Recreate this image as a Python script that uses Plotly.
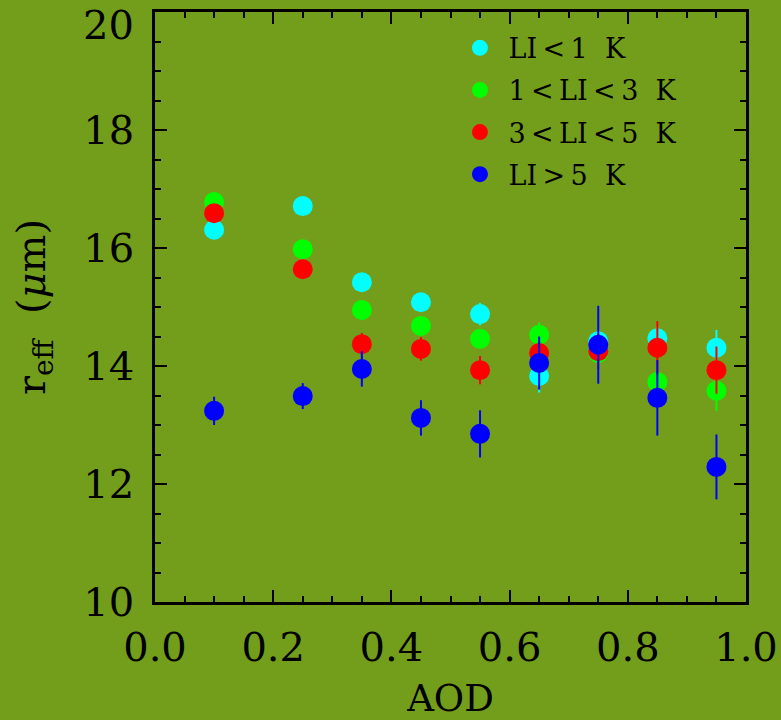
import plotly.graph_objects as go

aod = [0.1, 0.25, 0.35, 0.45, 0.55, 0.65, 0.75, 0.85, 0.95]

series_names = ["LI\u2009&lt;\u20091\u00a0\u00a0K", "1\u2009&lt;\u2009LI\u2009&lt;\u20093\u00a0\u00a0K",
                "3\u2009&lt;\u2009LI\u2009&lt;\u20095\u00a0\u00a0K", "LI\u2009&gt;\u20095\u00a0\u00a0K"]
series_colors = ["#00FFFF", "#00FF00", "#FF0000", "#0000FF"]

reff_li_lt1 = [16.31, 16.71, 15.42, 15.08, 14.88, 13.83, 14.42, 14.47, 14.31]
reff_li_1_3 = [16.78, 15.98, 14.95, 14.68, 14.46, 14.53, 14.22, 13.73, 13.58]
reff_li_3_5 = [16.59, 15.64, 14.37, 14.29, 13.93, 14.22, 14.25, 14.31, 13.93]
reff_li_gt5 = [13.24, 13.49, 13.95, 13.12, 12.85, 14.05, 14.36, 13.46, 12.29]

err_li_lt1 = [0.10, 0.10, 0.12, 0.12, 0.19, 0.28, 0.20, 0.20, 0.30]
err_li_1_3 = [0.10, 0.10, 0.12, 0.12, 0.15, 0.21, 0.25, 0.30, 0.34]
err_li_3_5 = [0.10, 0.10, 0.19, 0.20, 0.24, 0.20, 0.30, 0.45, 0.40]
err_li_gt5 = [0.24, 0.22, 0.30, 0.30, 0.40, 0.45, 0.66, 0.64, 0.55]

y_ticks_low = [10, 12, 14, 16, 18]
y_tick_top = [20]

values = [reff_li_lt1, reff_li_1_3, reff_li_3_5, reff_li_gt5]
errors = [err_li_lt1, err_li_1_3, err_li_3_5, err_li_gt5]

BG = "#739e1b"
FONT = "DejaVu Serif"
YRANGE = [10, 20]

fig = go.Figure()
for i, (nm, col, ys, es) in enumerate(zip(series_names, series_colors, values, errors)):
    fig.add_trace(go.Scatter(
        x=aod, y=ys, mode="markers", name="\u00a0" + nm,
        legendgroup=f"g{i}",
        marker=dict(color=col, size=20, line=dict(width=0)),
        error_y=dict(type="data", array=es, visible=True, color=col,
                     thickness=2, width=0),
    ))

# empty helper trace so the overlay axis carrying the top "20" label is drawn
fig.add_trace(go.Scatter(x=[None], y=[None], yaxis="y2", mode="markers",
                         showlegend=False, hoverinfo="skip"))

axis_common = dict(
    showline=True, linecolor="black", linewidth=2.5, mirror="ticks",
    ticks="inside", tickcolor="black", tickwidth=2, ticklen=12,
    showgrid=False, zeroline=False, ticklabeloverflow="allow",
    automargin=False,
    tickfont=dict(family=FONT, size=40, color="black"),
)

fig.update_xaxes(
    range=[0, 1], dtick=0.2, tick0=0, tickformat=".1f",
    minor=dict(dtick=0.05, ticks="inside", ticklen=6, tickwidth=2, tickcolor="black", showgrid=False),
    title=dict(text="AOD", font=dict(family=FONT, size=37, color="black"), standoff=33),
    ticklabelstandoff=8,
    **axis_common,
)

fig.update_layout(
    width=781, height=720,
    margin=dict(l=155, r=35, t=12, b=118),
    paper_bgcolor=BG, plot_bgcolor=BG,
    showlegend=True,
    yaxis=dict(
        range=YRANGE, tickmode="array", tickvals=[10, 12, 14, 16, 18, 20],
        ticktext=[str(v) for v in y_ticks_low] + [""],
        minor=dict(dtick=0.5, ticks="inside", ticklen=6, tickwidth=2, tickcolor="black", showgrid=False),
        title=dict(text="r<sub>eff</sub>\u00a0\u00a0(<i>μ</i>m)", font=dict(family=FONT, size=40, color="black"), standoff=26),
        ticklabelstandoff=10,
        **axis_common,
    ),
    yaxis2=dict(
        overlaying="y", side="left", range=YRANGE, automargin=False,
        tickmode="array", tickvals=y_tick_top, ticktext=[str(v) for v in y_tick_top],
        showline=False, ticks="", showgrid=False, zeroline=False,
        ticklabeloverflow="allow", ticklabelshift=13, ticklabelstandoff=20,
        tickfont=dict(family=FONT, size=40, color="black"),
    ),
    legend=dict(
        x=0.516, y=0.98, xanchor="left", yanchor="top",
        bgcolor="rgba(0,0,0,0)", borderwidth=0,
        font=dict(family=FONT, size=27, color="black"),
        tracegroupgap=4, itemsizing="trace",
    ),
)

fig.write_html("out.html", config={"displayModeBar": False},
               post_script="document.body.style.margin='0';document.body.style.padding='0';")
